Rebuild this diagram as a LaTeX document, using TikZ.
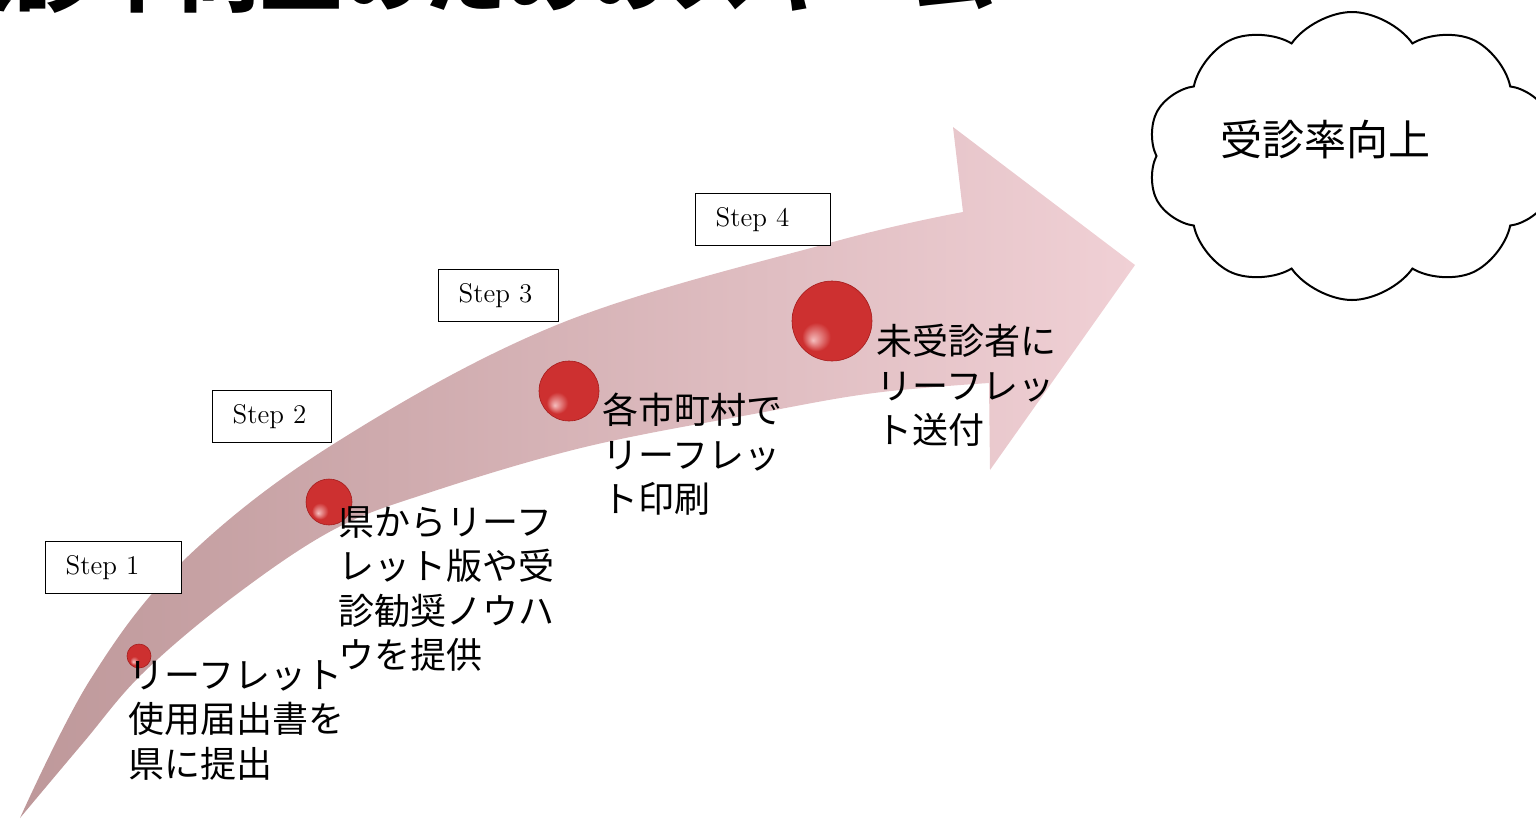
\documentclass[tikz,border=0pt]{standalone}
\usepackage{fontspec}
\newfontfamily\jpfont{Noto Sans CJK JP}
\usetikzlibrary{shapes.symbols}

\definecolor{bandDark}{RGB}{190,152,154}
\definecolor{bandLight}{RGB}{240,208,213}
\definecolor{ballLight}{RGB}{245,190,190}
\definecolor{ballRed}{RGB}{205,48,48}
\definecolor{ballDark}{RGB}{165,28,28}

\pgfdeclareradialshading{redsphere}{\pgfpoint{-12bp}{-12bp}}{%
  color(0bp)=(ballLight); color(9bp)=(ballRed); color(30bp)=(ballRed);
  color(40bp)=(ballDark); color(50bp)=(ballDark)}

\tikzset{
  stepbox/.style={draw, fill=white, line width=0.7pt, minimum height=26pt, inner xsep=10pt, inner ysep=0pt, anchor=north west, align=left, font=\fontsize{13.5}{15}\selectfont},
  steptext/.style={anchor=north west, inner sep=0pt, align=left, font=\jpfont\fontsize{18}{22.25}\selectfont},
  redball/.style={circle, inner sep=0pt, shading=redsphere, draw=ballDark, line width=0.3pt},
}

\begin{document}
\begin{tikzpicture}[x=0.5pt,y=0.5pt,yscale=-1,xscale=1]
\useasboundingbox (0,0) rectangle (1536,820);

% Title (cut by the top edge)
\node [anchor=base west, inner sep=0pt, font=\jpfont\bfseries\fontsize{41}{41}\selectfont] (title) at (-68,5) {受診率向上のためのスキーム};

% Curved arrow band
\shade [left color=bandDark, right color=bandLight]
  plot [smooth, tension=0.6] coordinates {(20,818) (90,680) (182,562) (332,445) (559,324) (833,242) (963,212)}
  -- (953,127) -- (1135,265) -- (990,470)
  -- plot [smooth, tension=0.6] coordinates {(989,383) (874,393) (759,413) (585,447) (428,493) (333,530) (233,597) (143,673) (83,743) (20,818)}
  -- cycle ;

% Balls
\node [redball, minimum size=12pt] (ball1) at (139,656) {};
\node [redball, minimum size=23pt] (ball2) at (329,502) {};
\node [redball, minimum size=30pt] (ball3) at (569,391) {};
\node [redball, minimum size=40pt] (ball4) at (832,321) {};

% Step boxes
\node [stepbox, text width=48pt] (step1) at (45,541) {Step 1};
\node [stepbox, text width=39.5pt] (step2) at (212,390) {Step 2};
\node [stepbox, text width=40pt] (step3) at (438,269) {Step 3};
\node [stepbox, text width=47.5pt] (step4) at (695,193) {Step 4};

% Step texts
\node [steptext] (text1) at (128,660) {リーフレット\\使用届出書を\\県に提出};
\node [steptext] (text2) at (338,506) {県からリーフ\\レット版や受\\診勧奨ノウハ\\ウを提供};
\node [steptext] (text3) at (602,393) {各市町村で\\リーフレッ\\ト印刷};
\node [steptext] (text4) at (876,324) {未受診者に\\リーフレッ\\ト送付};

% Cloud
\node [cloud, draw, fill=white, line width=1pt, cloud puffs=10, cloud puff arc=110, aspect=1.4, minimum width=205pt, minimum height=144pt, inner sep=0pt] (goal) at (1352,156) {};
\node [font=\jpfont\fontsize{21}{25}\selectfont] (goaltext) at (1325,140) {受診率向上};

\end{tikzpicture}
\end{document}
